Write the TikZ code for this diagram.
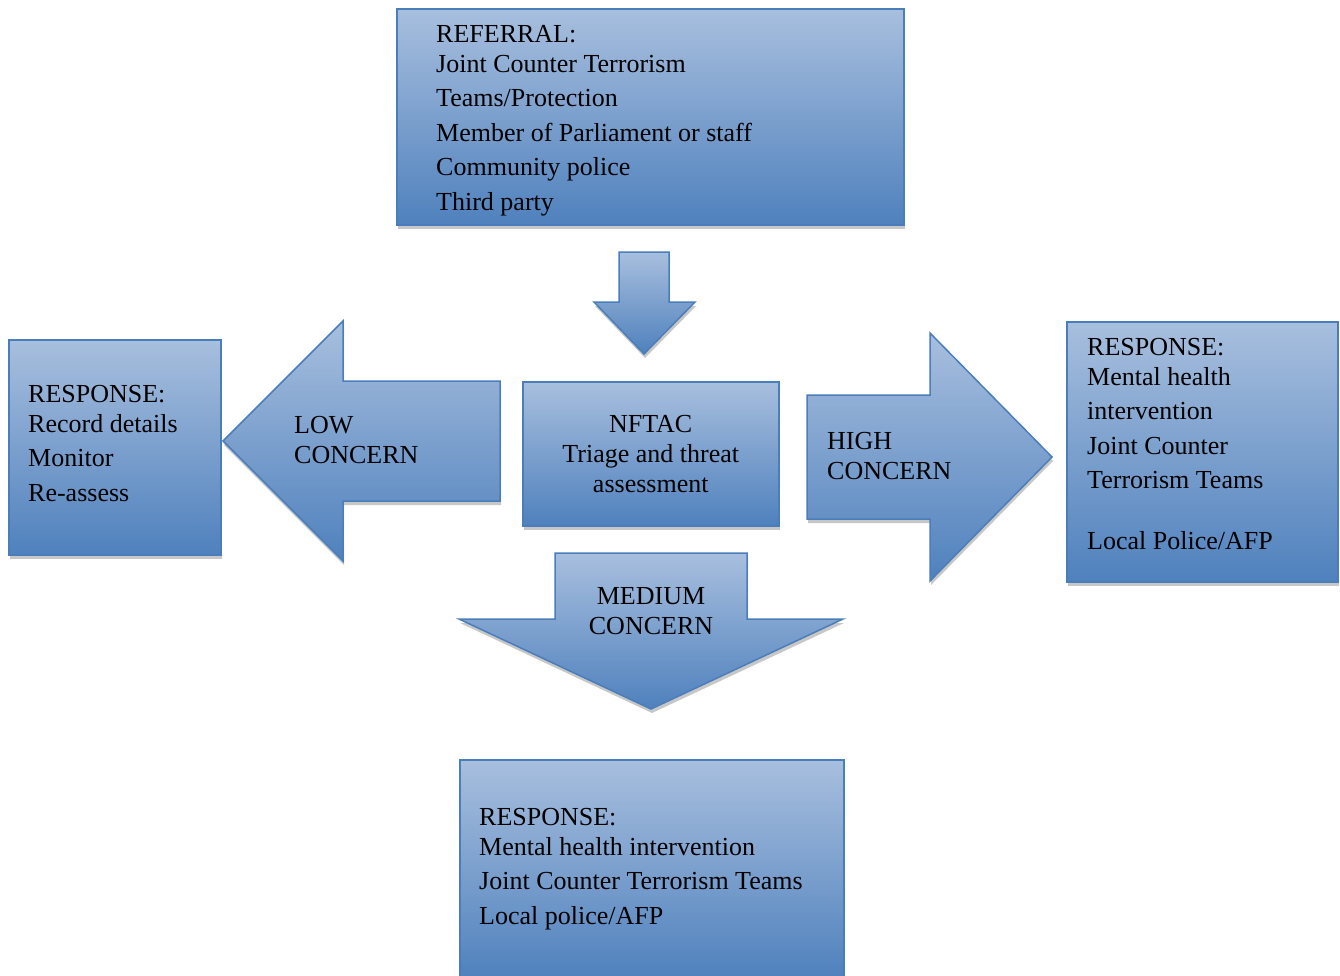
\documentclass[tikz,border=0pt]{standalone}
\usepackage{fontspec}
\setmainfont{Liberation Serif}
\usepackage{tikz}
\usetikzlibrary{positioning,calc,shadows}
\definecolor{boxtop}{RGB}{168,191,222}
\definecolor{boxbot}{RGB}{79,129,189}
\definecolor{boxline}{RGB}{74,126,187}

\begin{document}
\begin{tikzpicture}[
    x=1pt, y=-1pt,
    blockfill/.style={draw=boxline, line width=1.5pt, top color=boxtop, bottom color=boxbot,
        drop shadow={shadow xshift=1pt, shadow yshift=-4pt, fill=black!22, opacity=1}},
    panel/.style={blockfill, rectangle, inner sep=0pt, anchor=north west},
    words/.style={inner sep=0pt, anchor=north west, align=left, font=\fontsize{26}{30}\selectfont}
]
\clip (0,0) rectangle (1340,975);

% boxes
\node[panel, minimum width=507pt, minimum height=216pt] (referral) at (396,8) {};
\node[panel, minimum width=256pt, minimum height=144pt, align=center, font=\fontsize{26}{30}\selectfont] (nftac) at (522,381) {NFTAC\\Triage and threat\\assessment};
\node[panel, minimum width=212pt, minimum height=215pt] (lowresp) at (8,339) {};
\node[panel, minimum width=271pt, minimum height=260pt] (highresp) at (1066,321) {};
\node[panel, minimum width=384pt, minimum height=219pt] (medresp) at (459,759) {};

% box texts
\node[words] (referraltxt) at ($(referral.north west)+(40,17)$)
    {REFERRAL:\\Joint Counter Terrorism\\[4.5pt]Teams/Protection\\[4.5pt]Member of Parliament or staff\\[4.5pt]Community police\\[4.5pt]Third party};
\node[words] (lowresptxt) at ($(lowresp.north west)+(20,46)$)
    {RESPONSE:\\Record details\\[4.5pt]Monitor\\[4.5pt]Re-assess};
\node[words] (highresptxt) at ($(highresp.north west)+(21,17)$)
    {RESPONSE:\\Mental health\\[4.5pt]intervention\\[4.5pt]Joint Counter\\[4.5pt]Terrorism Teams\\[1pt]\\Local Police/AFP};
\node[words] (medresptxt) at ($(medresp.north west)+(20,49)$)
    {RESPONSE:\\Mental health intervention\\[4.5pt]Joint Counter Terrorism Teams\\[4.5pt]Local police/AFP};

% block arrows
\draw[blockfill] (619,252) -- (669,252) -- (669,302) -- (695,302) -- (644,354) -- (594,302) -- (619,302) -- cycle;
\draw[blockfill] (500,381) -- (343,381) -- (343,321) -- (223,441) -- (343,561) -- (343,501) -- (500,501) -- cycle;
\draw[blockfill] (807,395) -- (930,395) -- (930,333) -- (1052,457) -- (930,581) -- (930,519) -- (807,519) -- cycle;
\draw[blockfill] (555,553) -- (747,553) -- (747,619) -- (843,619) -- (651,709) -- (459,619) -- (555,619) -- cycle;

% arrow texts
\node[words] (lowtxt) at (294,416) {LOW\\CONCERN};
\node[words] (hightxt) at (827,432) {HIGH\\CONCERN};
\node[words, anchor=north, align=center] (medtxt) at (651,587) {MEDIUM\\CONCERN};

\end{tikzpicture}
\end{document}
